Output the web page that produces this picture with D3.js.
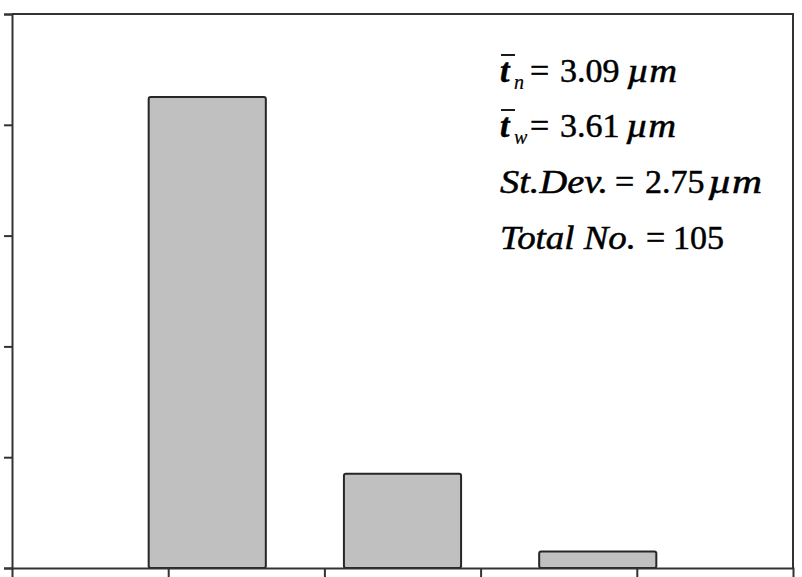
<!DOCTYPE html>
<html>
<head>
<meta charset="utf-8">
<script src="https://cdn.jsdelivr.net/npm/d3@7"></script>
<style>
  body { margin: 0; background: #fff; }
  svg { display: block; }
  .stats text { font-family: "Liberation Serif", "Times New Roman", Times, serif; font-size: 34px; fill: #000; stroke: #000; stroke-width: 0.5px; }
</style>
</head>
<body>
<div id="chart"></div>
<script>
// histogram data (bin centres, counts), ticks have no labels in the crop
const binCenters = [1, 6, 11];
const binWidth = 3;
const counts = [85, 17, 3];
const xTicks = [0, 4, 8, 12];
const yTicks = [0, 20, 40, 60, 80, 100];

// statistics box
const statSymbols = ["t", "t", "St.Dev.", "Total No."];
const statSubs = ["n", "w", "", ""];
const statValues = ["3.09", "3.61", "2.75", "105"];
const statUnits = ["\u00b5m", "\u00b5m", "\u00b5m", ""];

const W = 802, H = 577;
const padL = 12, padR = 793, padT = 14, padB = 568;

const svg = d3.select("#chart").append("svg").attr("width", W).attr("height", H);

const x = d3.scaleLinear().domain([-4, 16]).range([padL, padR]);
const y = d3.scaleLinear().domain([0, 100]).range([padB, padT]);

// bars
svg.selectAll("rect.bar").data(counts).enter().append("rect")
  .attr("class", "bar")
  .attr("x", (d, i) => x(binCenters[i] - binWidth / 2))
  .attr("width", (d, i) => x(binCenters[i] + binWidth / 2) - x(binCenters[i] - binWidth / 2))
  .attr("y", d => y(d))
  .attr("height", d => y(0) - y(d))
  .attr("rx", 2)
  .attr("fill", "#c0c0c0")
  .attr("stroke", "#262626")
  .attr("stroke-width", 2);

// frame top/right
svg.append("path")
  .attr("d", `M${padL},${padT}H${padR}V${padB}`)
  .attr("fill", "none").attr("stroke", "#333").attr("stroke-width", 2);

const yAxis = svg.append("g").attr("transform", `translate(${padL},0)`)
  .call(d3.axisLeft(y).tickValues(yTicks).tickSize(8).tickSizeOuter(8).tickFormat(""));
const xAxis = svg.append("g").attr("transform", `translate(0,${padB})`)
  .call(d3.axisBottom(x).tickValues(xTicks).tickSize(12).tickSizeOuter(12).tickFormat(""));
[yAxis, xAxis].forEach(a => {
  a.selectAll("path, line").attr("stroke", "#333").attr("stroke-width", 2);
});

// stats text layout
const baselines = [82, 137, 193, 249];
const nameW = [0, 0, 108, 136];
const eqX = [530, 530, 615, 646];
const valX = [560, 560, 645, 673];
const unitX = [627, 626, 708, 0];

const box = svg.append("g").attr("class", "stats");

statSymbols.forEach((s, i) => {
  const nm = box.append("text").attr("x", 500).attr("y", baselines[i])
    .style("font-style", "italic").text(s);
  if (statSubs[i]) {
    nm.style("font-weight", "bold");
    box.append("text").attr("x", 514).attr("y", baselines[i] + 7)
      .style("font-size", "20px").style("stroke-width", "0.2px")
      .style("font-style", "italic").text(statSubs[i]);
    box.append("line")
      .attr("x1", 501).attr("x2", 515)
      .attr("y1", baselines[i] - 27).attr("y2", baselines[i] - 27)
      .attr("stroke", "#000").attr("stroke-width", 1.8);
  } else {
    nm.attr("textLength", nameW[i]).attr("lengthAdjust", "spacingAndGlyphs");
  }
  box.append("text").attr("x", eqX[i]).attr("y", baselines[i]).text("=");
  box.append("text").attr("x", valX[i]).attr("y", baselines[i]).text(statValues[i]);
  if (statUnits[i]) {
    box.append("text").attr("x", unitX[i]).attr("y", baselines[i])
      .attr("textLength", i == 2 ? 54 : 50).attr("lengthAdjust", "spacingAndGlyphs")
      .style("font-style", "italic").text(statUnits[i]);
  }
});
</script>
</body>
</html>
